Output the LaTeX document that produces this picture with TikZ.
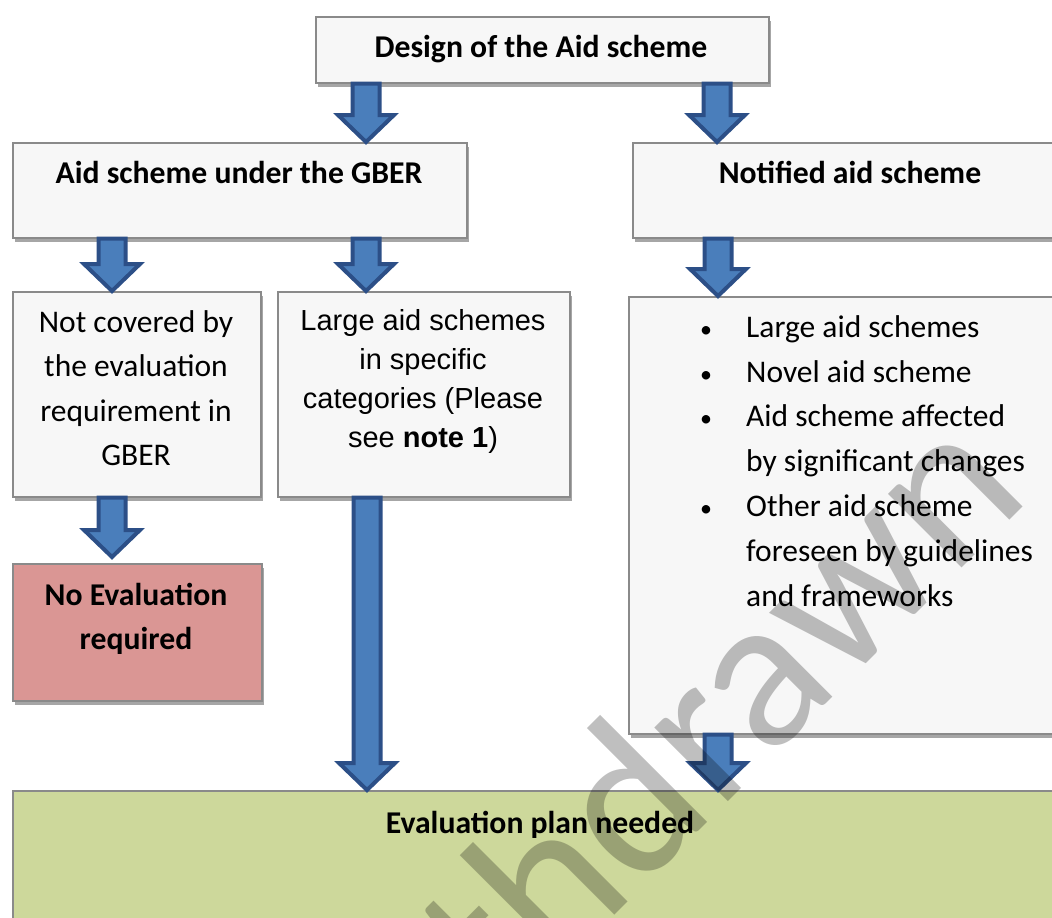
\documentclass[tikz,border=0pt]{standalone}
\usepackage{fontspec}
\setmainfont{Carlito}
\newfontfamily\arialf{Liberation Sans}
\usetikzlibrary{calc,shadows}
\definecolor{boxfill}{HTML}{F7F7F7}
\definecolor{boxline}{HTML}{8A8A8A}
\definecolor{shadowc}{HTML}{A6A6A6}
\definecolor{pinkfill}{HTML}{DA9694}
\definecolor{greenfill}{HTML}{CDD89B}
\definecolor{arrfill}{HTML}{4A7EBB}
\definecolor{arrline}{HTML}{2C4F87}
\newcommand\hs{\rule{0pt}{25pt}}
\newcommand\bul{\llap{\makebox[0pt][c]{\fontsize{24}{24}\selectfont\textbullet}\hspace{40pt}}}
\newcommand\blockarr[4]{%
  \path (#1.south -| #3,0) coordinate (bs) (#2.north -| #3,0) coordinate (bt);
  \draw[blockarrow] ($(bs)+(-13.5,0)$) -- ($(bt)+(-13.5,-27+#4)$) -- ($(bt)+(-28,-27+#4)$)
    -- ($(bt)+(0,#4)$) -- ($(bt)+(28,-27+#4)$) -- ($(bt)+(13.5,-27+#4)$) -- ($(bs)+(13.5,0)$) -- cycle;}
\begin{document}
\begin{tikzpicture}[x=1pt,y=-1pt,
  box/.style={draw=boxline, line width=1.5pt, fill=boxfill, inner sep=0pt, anchor=north west,
    drop shadow={shadow xshift=2pt, shadow yshift=-4pt, fill=shadowc, opacity=1}},
  hd/.style={font=\bfseries\fontsize{31.7}{44.5}\selectfont, inner sep=0pt, anchor=base},
  bodyt/.style={font=\fontsize{31.5}{44.5}\selectfont, align=center, inner sep=0pt, anchor=north},
  blockarrow/.style={draw=arrline, fill=arrfill, line width=4pt, line join=miter},
  wmark/.style={font=\fontsize{218}{218}\selectfont, text=black, text opacity=0.25, inner sep=0pt, anchor=base east, rotate=45}]
\useasboundingbox (0,0) rectangle (1052,918);
\clip (0,0) rectangle (1052,918);
% boxes
\node[box, minimum width=453pt, minimum height=66pt] (top) at (315,16) {};
\node[box, minimum width=454pt, minimum height=95pt] (gber) at (12,142) {};
\node[box, minimum width=436pt, minimum height=95pt] (notif) at (632,142) {};
\node[box, minimum width=248pt, minimum height=205pt] (notcov) at (12,291) {};
\node[box, minimum width=292pt, minimum height=205pt] (large) at (277,291) {};
\node[box, minimum width=444pt, minimum height=437pt] (bul) at (628,296) {};
\node[box, fill=pinkfill, minimum width=249pt, minimum height=137pt] (noeval) at (12,563) {};
\node[box, fill=greenfill, minimum width=1056pt, minimum height=250pt] (evalp) at (12,790) {};
% texts
\node[hd] (t0) at (541,57) {Design of the Aid scheme};
\node[hd] (t1) at (239,183) {Aid scheme under the GBER};
\node[hd] (t2) at (850,183) {Notified aid scheme};
\node[bodyt] (t3) at (136,307) {\hs Not covered by\\\hs the evaluation\\\hs requirement in\\\hs GBER};
\node[bodyt, font=\arialf\fontsize{29}{39}\selectfont] (t4) at (423,305)
  {\hs Large aid schemes\\\hs in specific\\\hs categories (Please\\\hs see \textbf{note 1})};
\node[bodyt, align=left, anchor=north west, font=\fontsize{31.5}{44.8}\selectfont] (t5) at (746,312)
  {\hs\bul Large aid schemes\\
   \hs\bul Novel aid scheme\\
   \hs\bul Aid scheme affected\\
   \hs by significant changes\\
   \hs\bul Other aid scheme\\
   \hs foreseen by guidelines\\
   \hs and frameworks};
\node[bodyt, font=\bfseries\fontsize{31.7}{44}\selectfont] (t6) at (136,580) {\hs No Evaluation\\\hs required};
\node[hd] (t7) at (540,833) {Evaluation plan needed};
% arrows
\blockarr{top}{gber}{366}{0}
\blockarr{top}{notif}{717}{0}
\blockarr{gber}{notcov}{112}{0}
\blockarr{gber}{large}{366}{0}
\blockarr{notif}{bul}{718}{0}
\blockarr{notcov}{noeval}{112}{-6}
\blockarr{large}{evalp}{367}{0}
\blockarr{bul}{evalp}{718}{0}
% watermark
\node[wmark] (wm) at (1033,497) {withdrawn};
\end{tikzpicture}
\end{document}
